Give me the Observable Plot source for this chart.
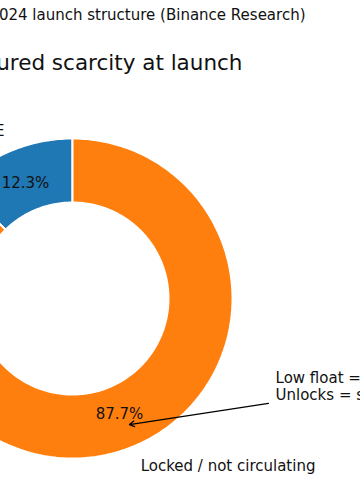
<!DOCTYPE html>
<html><head><meta charset="utf-8">
<script src="https://cdn.jsdelivr.net/npm/d3@7"></script>
<script src="https://cdn.jsdelivr.net/npm/@observablehq/plot@0.6"></script>
<style>
html,body{margin:0;padding:0;background:#fff;overflow:hidden;width:360px;height:504px}
#chart svg{overflow:hidden;display:block}
</style></head>
<body><div id="chart"></div>
<script>
// ---- data ----
const categories = ["Circulating at TGE", "Locked / not circulating"];
const shares = [12.3, 87.7];
const pctLabels = ["12.3%", "87.7%"];
const colors = ["#1f77b4", "#ff7f0e"];
const titleText = "Manufactured scarcity at launch";
const subtitleText = "Token supply: 2024 launch structure (Binance Research)";
const noteLines = ["Low float = high FDV", "Unlocks = sell pressure"];

// ---- geometry of the donut (in unit-radius data space) ----
const startAngle = 90, innerR = 0.6, pctDist = 0.78, labelDist = 1.13;
const total = d3.sum(shares);
let acc = startAngle;
const slices = categories.map((c, i) => {
  const a0 = acc, a1 = acc + shares[i] / total * 360;
  acc = a1;
  return {category: c, share: shares[i], pct: pctLabels[i], color: colors[i], a0, a1, mid: (a0 + a1) / 2};
});
const rad = d => d * Math.PI / 180;
function ring(s) {
  const pts = [];
  const n = Math.max(2, Math.ceil(s.a1 - s.a0));
  for (let k = 0; k <= n; k++) { const a = rad(s.a0 + (s.a1 - s.a0) * k / n); pts.push({x: Math.cos(a), y: Math.sin(a), category: s.category}); }
  for (let k = n; k >= 0; k--) { const a = rad(s.a0 + (s.a1 - s.a0) * k / n); pts.push({x: innerR * Math.cos(a), y: innerR * Math.sin(a), category: s.category}); }
  return pts;
}
const pctPts = slices.map(s => ({x: pctDist * Math.cos(rad(s.mid)), y: pctDist * Math.sin(rad(s.mid)), text: s.pct}));
const labPts = slices.map(s => ({x: labelDist * Math.cos(rad(s.mid)), y: labelDist * Math.sin(rad(s.mid)), text: s.category}));

const font = "DejaVu Sans, Verdana, sans-serif";
const cx = 72, cy = 298, R = 160;

const chart = Plot.plot({
  width: 360, height: 504,
  margin: 0,
  style: {fontFamily: font, background: "#fff", color: "#000"},
  x: {type: "linear", domain: [-1, 1], range: [cx - R, cx + R], axis: null},
  y: {type: "linear", domain: [-1, 1], range: [cy + R, cy - R], axis: null},
  marks: [
    ...slices.map(s => Plot.line(ring(s), {x: "x", y: "y", curve: "linear-closed", fill: s.color, stroke: "#fff", strokeWidth: 2, strokeLinejoin: "miter"})),
    Plot.text(pctPts, {x: "x", y: "y", text: "text", fontSize: 15, fill: "#111", textAnchor: "middle", lineAnchor: "middle"}),
    Plot.text(labPts.filter(d => d.x < 0), {x: "x", y: "y", text: "text", fontSize: 15, fill: "#111", textAnchor: "end", lineAnchor: "middle"}),
    Plot.text(labPts.filter(d => d.x >= 0), {x: "x", y: "y", text: "text", fontSize: 15, fill: "#111", textAnchor: "start", lineAnchor: "middle"}),
    Plot.arrow([{x1: 1.225, y1: -0.656, x2: 0.356, y2: -0.788}], {x1: "x1", y1: "y1", x2: "x2", y2: "y2", stroke: "#000", strokeWidth: 1.2, headLength: 7, insetStart: 0, insetEnd: 0}),
    Plot.text([noteLines.join("\n")], {x: 1.269, y: -0.55, text: d => d, fontSize: 15, fill: "#111", textAnchor: "start", lineAnchor: "middle", lineHeight: 1.13}),
    Plot.text([titleText], {frameAnchor: "top-left", dx: 242, dy: 63, text: d => d, fontSize: 21.5, fill: "#111", textAnchor: "end", lineAnchor: "middle"}),
    Plot.text([subtitleText], {frameAnchor: "top-left", dx: 305, dy: 15, text: d => d, fontSize: 15, fill: "#111", textAnchor: "end", lineAnchor: "middle"})
  ]
});
document.getElementById("chart").appendChild(chart);
</script>
</body></html>
